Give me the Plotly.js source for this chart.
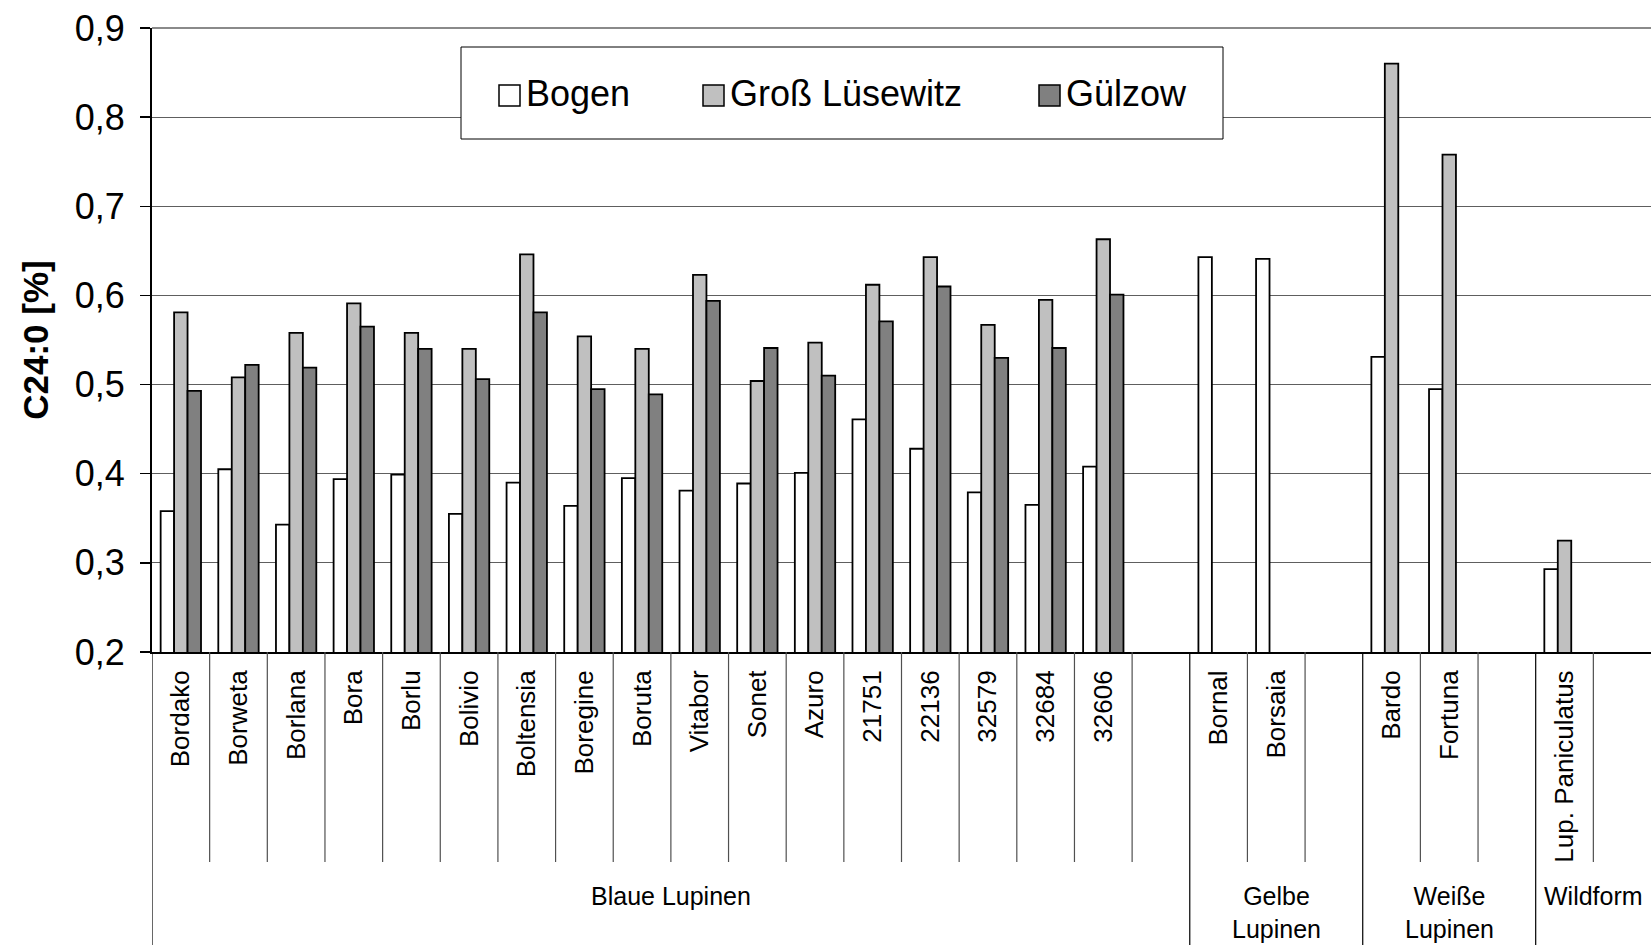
<!DOCTYPE html>
<html>
<head>
<meta charset="utf-8">
<script src="https://cdn.plot.ly/plotly-3.0.1.min.js"></script>
<style>
  html, body { margin: 0; padding: 0; background: #fff; }
  #chart { width: 1651px; height: 945px; }
</style>
</head>
<body>
<div id="chart"></div>
<script>
// sorten, leere Eintraege = Luecke zwischen den Gruppen
var categories = ['Bordako', 'Borweta', 'Borlana', 'Bora', 'Borlu', 'Bolivio', 'Boltensia', 'Boregine',
  'Boruta', 'Vitabor', 'Sonet', 'Azuro', '21751', '22136', '32579', '32684', '32606', '',
  'Bornal', 'Borsaia', '', 'Bardo', 'Fortuna', '', 'Lup. Paniculatus', ''];

var bogen = [0.358, 0.405, 0.343, 0.394, 0.399, 0.355, 0.390, 0.364, 0.395, 0.381, 0.389, 0.401,
  0.461, 0.428, 0.379, 0.365, 0.408, null, 0.643, 0.641, null, 0.531, 0.495, null, 0.293, null];
var grossLuesewitz = [0.581, 0.508, 0.558, 0.591, 0.558, 0.540, 0.646, 0.554, 0.540, 0.623, 0.504, 0.547,
  0.612, 0.643, 0.567, 0.595, 0.663, null, null, null, null, 0.860, 0.758, null, 0.325, null];
var guelzow = [0.493, 0.522, 0.519, 0.565, 0.540, 0.506, 0.581, 0.495, 0.489, 0.594, 0.541, 0.510,
  0.571, 0.610, 0.530, 0.541, 0.601, null, null, null, null, null, null, null, null, null];

var seriesNames = ['Bogen', 'Groß Lüsewitz', 'Gülzow'];
var seriesColors = ['#ffffff', '#c0c0c0', '#808080'];

var groupNames = ['Blaue Lupinen', 'Gelbe<br>Lupinen', 'Weiße<br>Lupinen', 'Wildform'];
var groupSizes = [18, 3, 3, 2];

var yTicks = [0.2, 0.3, 0.4, 0.5, 0.6, 0.7, 0.8, 0.9];

// Seitengeometrie
var W = 1651, H = 945, L = 152, R = 0, T = 28, B = 293;
function px(x) { return (x - L) / (W - L - R); }
function py(y) { return (H - B - y) / (H - T - B); }

var font = 'Liberation Sans, Arial, sans-serif';
var idx = categories.map(function (c, i) { return i; });

var values = [bogen, grossLuesewitz, guelzow];
var data = values.map(function (v, k) {
  return {
    type: 'bar',
    x: idx,
    y: v,
    name: seriesNames[k],
    showlegend: false,
    marker: { color: seriesColors[k], line: { color: '#000', width: 1.8 } },
    hoverinfo: 'y+name'
  };
});

// Trennlinien unter der x-Achse
var shapes = [];
var bounds = [0];
groupSizes.forEach(function (n) { bounds.push(bounds[bounds.length - 1] + n); });
for (var i = 0; i < categories.length; i++) {
  var isGroup = bounds.indexOf(i) >= 0;
  shapes.push({
    type: 'line', xref: 'x', yref: 'paper',
    x0: i - 0.5, x1: i - 0.5, y0: 0, y1: isGroup ? py(H) : py(862),
    line: { color: isGroup ? '#000' : '#505050', width: 1.2 }
  });
}
// oberer Rahmen
shapes.push({ type: 'line', xref: 'paper', yref: 'paper', x0: 0, x1: 1, y0: 1, y1: 1,
  line: { color: '#8a8a8a', width: 2 } });

// Legende (eigener Kasten)
shapes.push({ type: 'rect', xref: 'paper', yref: 'paper', layer: 'above',
  x0: px(461), x1: px(1223), y0: py(139), y1: py(47),
  fillcolor: '#fff', line: { color: '#000', width: 1 } });
var legX = [499, 703, 1039];
var annotations = [];
seriesNames.forEach(function (name, k) {
  shapes.push({ type: 'rect', xref: 'paper', yref: 'paper', layer: 'above',
    x0: px(legX[k]), x1: px(legX[k] + 21), y0: py(106), y1: py(85),
    fillcolor: seriesColors[k], line: { color: '#000', width: 1.5 } });
  annotations.push({ xref: 'paper', yref: 'paper', x: px(legX[k] + 25), y: py(94),
    xanchor: 'left', yanchor: 'middle', showarrow: false, text: name,
    font: { family: font, size: 36, color: '#000' } });
});

// Gruppenbeschriftung
var start = 0;
groupNames.forEach(function (g, k) {
  annotations.push({ xref: 'x', yref: 'paper', x: start + (groupSizes[k] - 1) / 2, y: py(880),
    xanchor: 'center', yanchor: 'top', showarrow: false, text: g,
    font: { family: font, size: 25, color: '#000' } });
  start += groupSizes[k];
});

var layout = {
  width: W, height: H,
  margin: { l: L, r: R, t: T, b: B, pad: 0 },
  paper_bgcolor: '#fff', plot_bgcolor: '#fff',
  separators: ',.',
  barmode: 'group', bargap: 0.3, bargroupgap: 0,
  font: { family: font, color: '#000' },
  xaxis: {
    range: [-0.5, categories.length - 0.5],
    tickmode: 'array', tickvals: idx, ticktext: categories,
    tickangle: -90, ticks: '', ticklabelstandoff: 6,
    tickfont: { family: font, size: 26, color: '#000' },
    showgrid: false, zeroline: false,
    showline: true, linecolor: '#000', linewidth: 2,
    automargin: false, fixedrange: true
  },
  yaxis: {
    range: [0.2, 0.9], tickmode: 'array', tickvals: yTicks, tickformat: '.1f',
    ticks: 'outside', ticklen: 10, tickwidth: 1.5, tickcolor: '#000',
    ticklabelstandoff: 8,
    tickfont: { family: font, size: 36, color: '#000' },
    showgrid: true, gridcolor: '#5e5e5e', gridwidth: 1,
    zeroline: false, showline: true, linecolor: '#000', linewidth: 2,
    title: { text: '<b>C24:0 [%]</b>', standoff: 16, font: { family: font, size: 35, color: '#000' } },
    automargin: false, fixedrange: true
  },
  shapes: shapes,
  annotations: annotations
};

Plotly.newPlot('chart', data, layout, { displayModeBar: false, staticPlot: true });
</script>
</body>
</html>
